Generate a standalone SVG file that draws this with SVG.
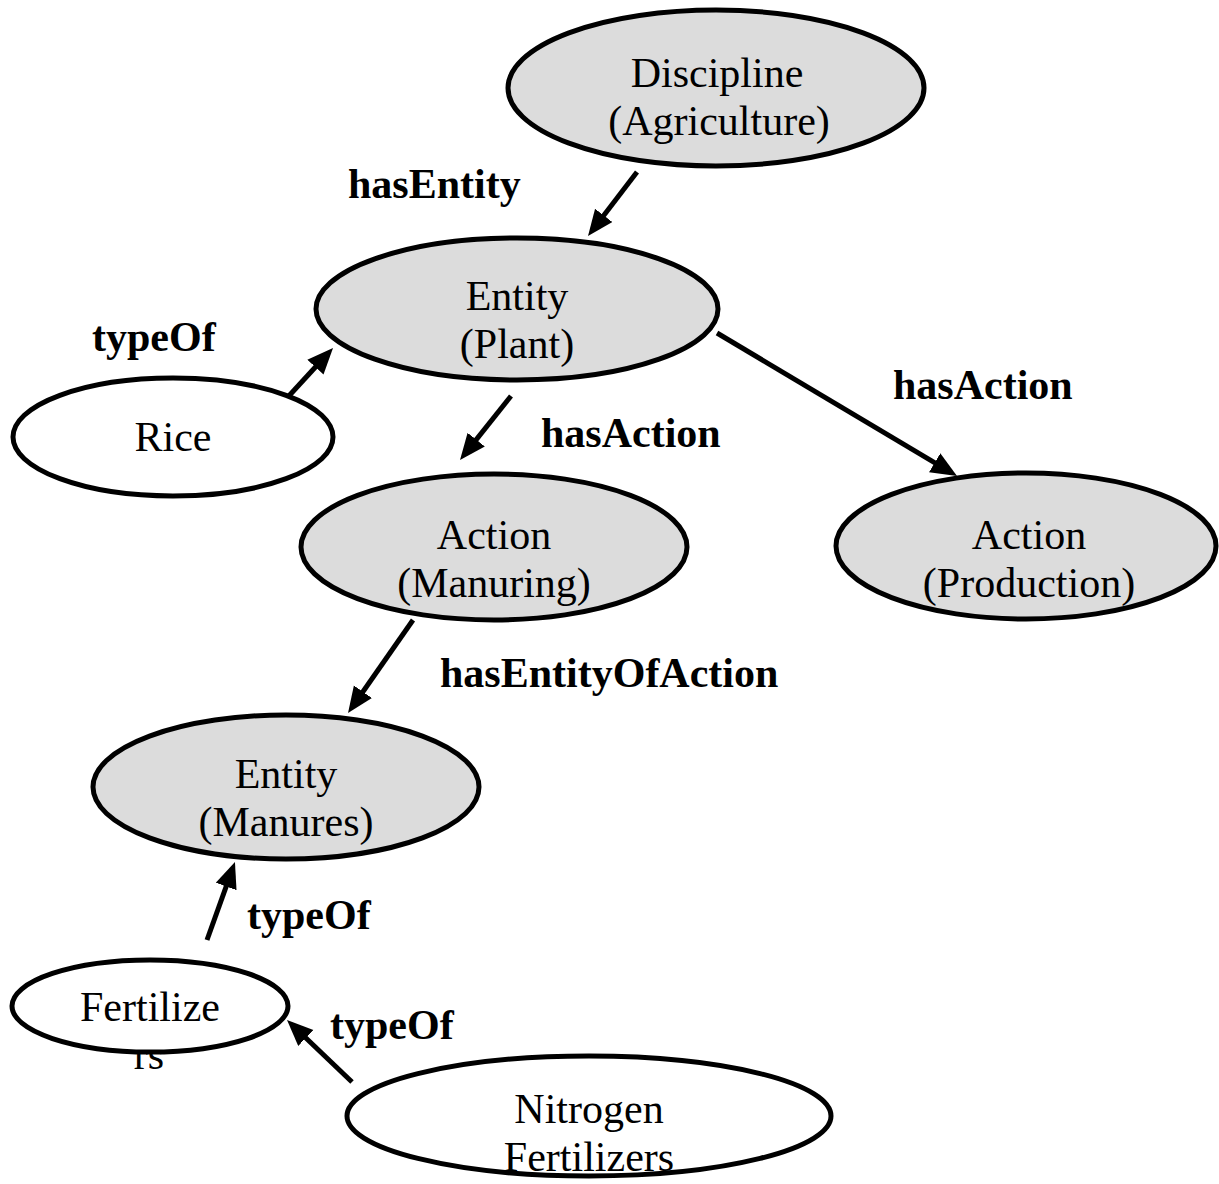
<svg xmlns="http://www.w3.org/2000/svg" width="1219" height="1184" viewBox="0 0 1219 1184">
  <style>
    .node { stroke: #000; stroke-width: 5; }
    .class { fill: #dcdcdc; }
    .inst { fill: #fff; }
    .txt { font-family: "Liberation Serif", "Times New Roman", serif; font-size: 42px; fill: #000; text-anchor: middle; }
    .lbl { font-family: "Liberation Serif", "Times New Roman", serif; font-size: 42px; font-weight: bold; fill: #000; }
    .edge { stroke: #000; stroke-width: 5; fill: none; marker-end: url(#arrow); }
  </style>
  <defs>
    <marker id="arrow" markerUnits="userSpaceOnUse" markerWidth="30" markerHeight="24" refX="14" refY="11" orient="auto">
      <path d="M0,0 L26,11 L0,22 Z" fill="#000"/>
    </marker>
  </defs>
  <rect width="1219" height="1184" fill="#fff"/>

  <!-- relations -->
  <g id="connectors">
    <line class="edge" x1="637" y1="172" x2="595.3" y2="226.5"/>
    <line class="edge" x1="287" y1="398" x2="324.9" y2="356.8"/>
    <line class="edge" x1="511" y1="396" x2="467.5" y2="450.6"/>
    <line class="edge" x1="717" y1="333" x2="946.7" y2="469.9"/>
    <line class="edge" x1="413" y1="620" x2="354.9" y2="703.2"/>
    <line class="edge" x1="207" y1="940" x2="230.9" y2="873.3"/>
    <line class="edge" x1="352" y1="1082" x2="295.7" y2="1028.3"/>
  </g>

  <g id="labels">
    <text class="lbl" x="348" y="198">hasEntity</text>
    <text class="lbl" x="92" y="351">typeOf</text>
    <text class="lbl" x="893" y="399">hasAction</text>
    <text class="lbl" x="541" y="447">hasAction</text>
    <text class="lbl" x="440" y="687">hasEntityOfAction</text>
    <text class="lbl" x="247" y="929">typeOf</text>
    <text class="lbl" x="330" y="1039">typeOf</text>
  </g>

  <g id="discipline">
    <ellipse class="node class" cx="716" cy="88" rx="208" ry="78"/>
    <text class="txt" x="717" y="87">Discipline</text>
    <text class="txt" x="719" y="135">(Agriculture)</text>
  </g>

  <g id="entity-plant">
    <ellipse class="node class" cx="517" cy="309" rx="201" ry="71"/>
    <text class="txt" x="517" y="310">Entity</text>
    <text class="txt" x="517" y="358">(Plant)</text>
  </g>

  <g id="rice">
    <ellipse class="node inst" cx="173" cy="437" rx="160" ry="59"/>
    <text class="txt" x="173" y="451">Rice</text>
  </g>

  <g id="action-manuring">
    <ellipse class="node class" cx="494" cy="547" rx="193" ry="73"/>
    <text class="txt" x="494" y="549">Action</text>
    <text class="txt" x="494" y="597">(Manuring)</text>
  </g>

  <g id="action-production">
    <ellipse class="node class" cx="1026" cy="546" rx="190" ry="73"/>
    <text class="txt" x="1029" y="549">Action</text>
    <text class="txt" x="1029" y="597">(Production)</text>
  </g>

  <g id="entity-manures">
    <ellipse class="node class" cx="286" cy="787" rx="193" ry="72"/>
    <text class="txt" x="286" y="788">Entity</text>
    <text class="txt" x="286" y="836">(Manures)</text>
  </g>

  <g id="fertilizers">
    <text class="txt" x="149" y="1069">rs</text>
    <ellipse class="node inst" cx="150" cy="1006" rx="138" ry="46"/>
    <text class="txt" x="150" y="1021">Fertilize</text>
  </g>

  <g id="nitrogen-fertilizers">
    <ellipse class="node inst" cx="589" cy="1116" rx="242" ry="60"/>
    <text class="txt" x="589" y="1123">Nitrogen</text>
    <text class="txt" x="589" y="1171">Fertilizers</text>
  </g>
</svg>
